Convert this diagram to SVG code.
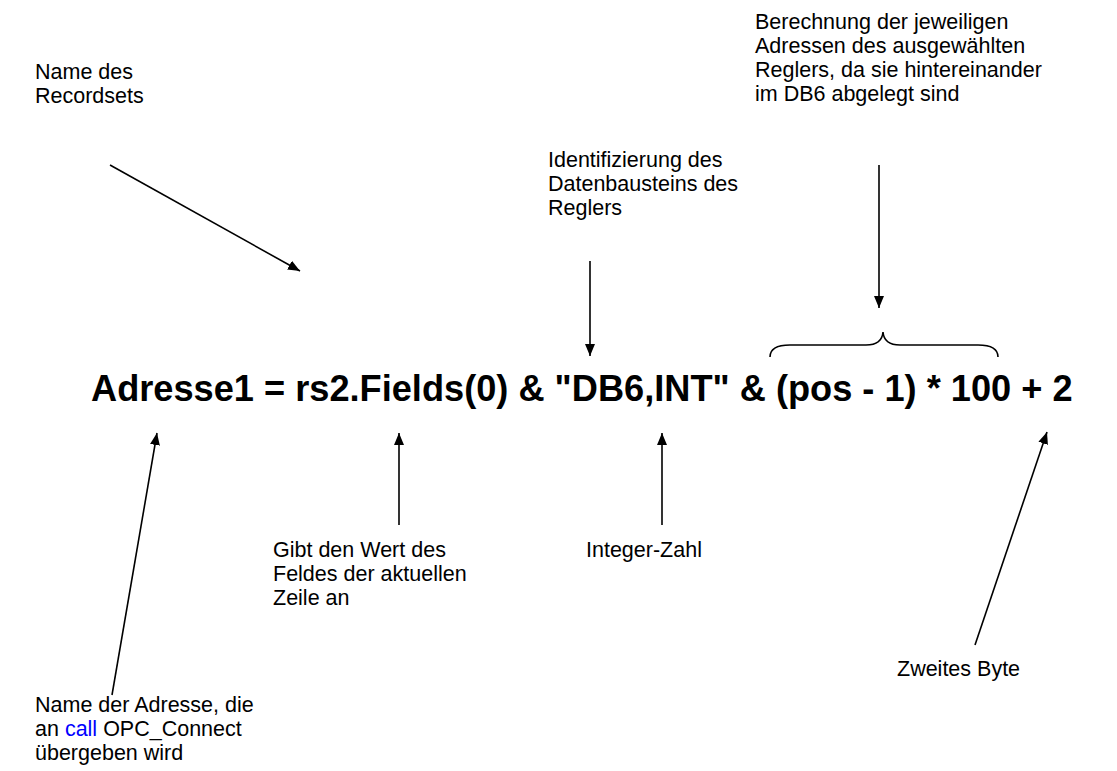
<svg xmlns="http://www.w3.org/2000/svg" width="1117" height="771" viewBox="0 0 1117 771">
  <style>
    .lbl { font-family: "Liberation Sans", Arial, sans-serif; font-size: 21.5px; fill: #000; }
    .code { font-family: "Liberation Sans", Arial, sans-serif; font-size: 36.2px; font-weight: bold; fill: #000; }
    .kw { fill: #0000ff; }
    .conn { stroke: #000; stroke-width: 1.6; fill: none; }
  </style>
  <defs>
    <marker id="arrow" viewBox="0 0 12 10" refX="12" refY="5" markerWidth="12" markerHeight="10" markerUnits="userSpaceOnUse" orient="auto">
      <path d="M0,0 L12,5 L0,10 Z" fill="#000"/>
    </marker>
  </defs>
  <rect width="1117" height="771" fill="#fff"/>

  <!-- code line being annotated -->
  <g id="code-line">
    <text class="code" x="91" y="401">Adresse1 = rs2.Fields(0) &amp; "DB6,INT" &amp; (pos - 1) * 100 + 2</text>
  </g>

  <g id="note-recordset">
    <text class="lbl" x="35" y="79">Name des</text>
    <text class="lbl" x="35" y="103">Recordsets</text>
  </g>

  <g id="note-datablock">
    <text class="lbl" x="548" y="167">Identifizierung des</text>
    <text class="lbl" x="548" y="191">Datenbausteins des</text>
    <text class="lbl" x="548" y="215">Reglers</text>
  </g>

  <g id="note-address-calc">
    <text class="lbl" x="755" y="29">Berechnung der jeweiligen</text>
    <text class="lbl" x="755" y="53">Adressen des ausgewählten</text>
    <text class="lbl" x="755" y="77">Reglers, da sie hintereinander</text>
    <text class="lbl" x="755" y="101">im DB6 abgelegt sind</text>
  </g>

  <g id="note-field-value">
    <text class="lbl" x="273" y="557">Gibt den Wert des</text>
    <text class="lbl" x="273" y="581">Feldes der aktuellen</text>
    <text class="lbl" x="273" y="605">Zeile an</text>
  </g>

  <g id="note-integer">
    <text class="lbl" x="586" y="557">Integer-Zahl</text>
  </g>

  <g id="note-address-name">
    <text class="lbl" x="35" y="712">Name der Adresse, die</text>
    <text class="lbl" x="35" y="736">an <tspan class="kw">call</tspan> OPC_Connect</text>
    <text class="lbl" x="35" y="760">übergeben wird</text>
  </g>

  <g id="note-second-byte">
    <text class="lbl" x="897" y="676">Zweites Byte</text>
  </g>

  <!-- connectors -->
  <g id="connectors">
    <line class="conn" x1="110" y1="165" x2="300" y2="271" marker-end="url(#arrow)"/>
    <line class="conn" x1="590" y1="261" x2="590" y2="356" marker-end="url(#arrow)"/>
    <line class="conn" x1="879" y1="165" x2="879" y2="308" marker-end="url(#arrow)"/>
    <path class="conn" d="M770,357 Q770,345 790,345 L866,345 Q882,345 883,332 Q884,345 900,345 L978,345 Q998,345 998,357"/>
    <line class="conn" x1="112" y1="695" x2="157" y2="433" marker-end="url(#arrow)"/>
    <line class="conn" x1="399" y1="525" x2="399" y2="433" marker-end="url(#arrow)"/>
    <line class="conn" x1="662" y1="525" x2="662" y2="433" marker-end="url(#arrow)"/>
    <line class="conn" x1="975" y1="645" x2="1047" y2="432" marker-end="url(#arrow)"/>
  </g>
</svg>
